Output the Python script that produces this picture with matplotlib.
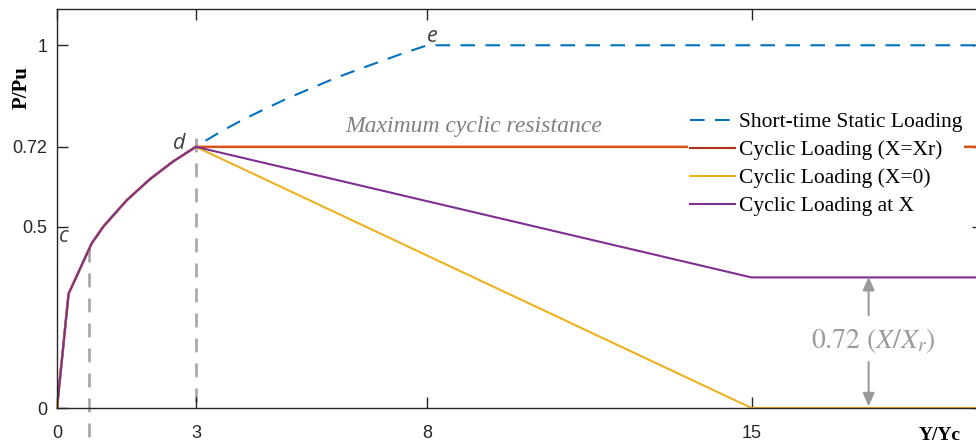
import matplotlib
matplotlib.use("Agg")
import matplotlib.pyplot as plt
from matplotlib.lines import Line2D

# Short-time static p-y curve (normalised)
static_x = [0, 0.25, 0.75, 1.0, 1.5, 2.0, 2.5, 3.0, 3.5, 4.0, 4.5, 5.0, 5.5,
            6.0, 6.5, 7.0, 7.5, 8.0, 20.0]
static_y = [0, 0.315, 0.454, 0.50, 0.572, 0.630, 0.679, 0.721, 0.759, 0.794,
            0.825, 0.855, 0.882, 0.909, 0.933, 0.956, 0.979, 1.0, 1.0]

# Cyclic curves share the static branch up to point d
cyclic_xr_x = [0, 0.25, 0.75, 1.0, 1.5, 2.0, 2.5, 3.0, 20.0]
cyclic_xr_y = [0, 0.315, 0.454, 0.50, 0.572, 0.630, 0.679, 0.72, 0.72]

cyclic_x0_x = [0, 0.25, 0.75, 1.0, 1.5, 2.0, 2.5, 3.0, 15.0, 20.0]
cyclic_x0_y = [0, 0.315, 0.454, 0.50, 0.572, 0.630, 0.679, 0.72, 0.0, 0.0]

cyclic_x_x = [0, 0.25, 0.75, 1.0, 1.5, 2.0, 2.5, 3.0, 15.0, 20.0]
cyclic_x_y = [0, 0.315, 0.454, 0.50, 0.572, 0.630, 0.679, 0.72, 0.36, 0.36]

x_ticks = [0, 3, 8, 15]
y_ticks = [0, 0.5, 0.72, 1]
y_tick_labels = ["0", "0.5", "0.72", "1"]

c_blue = "#0072BD"
c_red = "#D95319"
c_yellow = "#EDB120"
c_purple = "#7E2F8E"
c_gray = "#9a9a9a"

plt.rcParams["mathtext.fontset"] = "stix"

fig = plt.figure(figsize=(9.76, 4.48), dpi=100)
ax = fig.add_axes([57 / 976, 1 - 408 / 448, (983 - 57) / 976, (408 - 9) / 448])

ax.plot(static_x, static_y, color=c_blue, lw=1.5, dashes=(7, 5), zorder=2)
ax.plot(cyclic_xr_x, cyclic_xr_y, color=c_red, lw=1.8, zorder=2)
ax.plot(cyclic_x0_x, cyclic_x0_y, color=c_yellow, lw=1.5, zorder=2, clip_on=False)
ax.plot(cyclic_x_x, cyclic_x_y, color=c_purple, lw=1.5, zorder=2)

# Guide lines at points c and d
ax.plot([0.69, 0.69], [0.44, -0.11], color="#aaaaaa", lw=2, dashes=(5, 4),
        clip_on=False, zorder=1.5)
ax.plot([3, 3], [0.745, 0], color="#aaaaaa", lw=2, dashes=(5, 4), zorder=1.5)

ax.set_xlim(0, 20)
ax.set_ylim(0, 1.1)
ax.set_xticks(x_ticks)
ax.set_xticklabels([str(t) for t in x_ticks])
ax.set_yticks(y_ticks)
ax.set_yticklabels(y_tick_labels)

for s in ax.spines.values():
    s.set_color("#262626")
    s.set_linewidth(1.0)
ax.tick_params(axis="both", direction="in", length=8, width=1.0,
               color="#262626", labelsize=13, top=True, right=True,
               labelcolor="#262626")
ax.tick_params(axis="x", pad=12)
ax.tick_params(axis="y", pad=7)
for lab in ax.get_xticklabels() + ax.get_yticklabels():
    lab.set_fontfamily("Liberation Sans")

# Axis labels
fig.text(22 / 976, 1 - 88 / 448, "P/Pu", rotation=90, ha="center", va="center",
         fontsize=15, fontweight="bold", family="Liberation Serif")
fig.text(940 / 976, 1 - 435 / 448, "Y/Yc", ha="center", va="center",
         fontsize=14, fontweight="bold", family="Liberation Serif")

# Point labels
lab_kw = dict(fontsize=15.5, style="italic", color="#404040", family="Open Sans",
              ha="center", va="center")
ax.text(0.15, 0.474, "c", **lab_kw)
ax.text(2.63, 0.73, "d", **lab_kw)
ax.text(8.11, 1.025, "e", **lab_kw)

ax.text(9.0, 0.776, "Maximum cyclic resistance", fontsize=17, style="italic",
        color="#808080", family="Liberation Serif", ha="center", va="center")

# Reduction annotation
arrow_kw = dict(arrowstyle="-|>,head_width=0.35,head_length=0.8", color=c_gray,
                lw=1.5, shrinkA=0, shrinkB=0)
ax.annotate("", xy=(17.53, 0.362), xytext=(17.53, 0.256), arrowprops=arrow_kw)
ax.annotate("", xy=(17.53, 0.004), xytext=(17.53, 0.127), arrowprops=arrow_kw)
ax.text(17.63, 0.185, r"$0.72\ (X/X_r)$", fontsize=20, color=c_gray,
        ha="center", va="center")

handles = [
    Line2D([], [], color=c_blue, lw=1.5, dashes=(7, 5)),
    Line2D([], [], color="#B0301A", lw=1.5),
    Line2D([], [], color=c_yellow, lw=1.5),
    Line2D([], [], color=c_purple, lw=1.5),
]
labels = ["Short-time Static Loading", "Cyclic Loading (X=Xr)",
          "Cyclic Loading (X=0)", "Cyclic Loading at X"]
leg = ax.legend(handles, labels, loc="upper left",
                bbox_to_anchor=(688 / 976, 1 - 110 / 448),
                bbox_transform=fig.transFigure, frameon=True, framealpha=1,
                facecolor="white", edgecolor="none", fancybox=False,
                prop={"family": "Liberation Serif", "size": 15.5},
                handlelength=2.1, handletextpad=0.15, labelspacing=0.37,
                borderpad=0.1, borderaxespad=0)
leg.set_zorder(5)

fig.savefig("out.png", dpi=100)
